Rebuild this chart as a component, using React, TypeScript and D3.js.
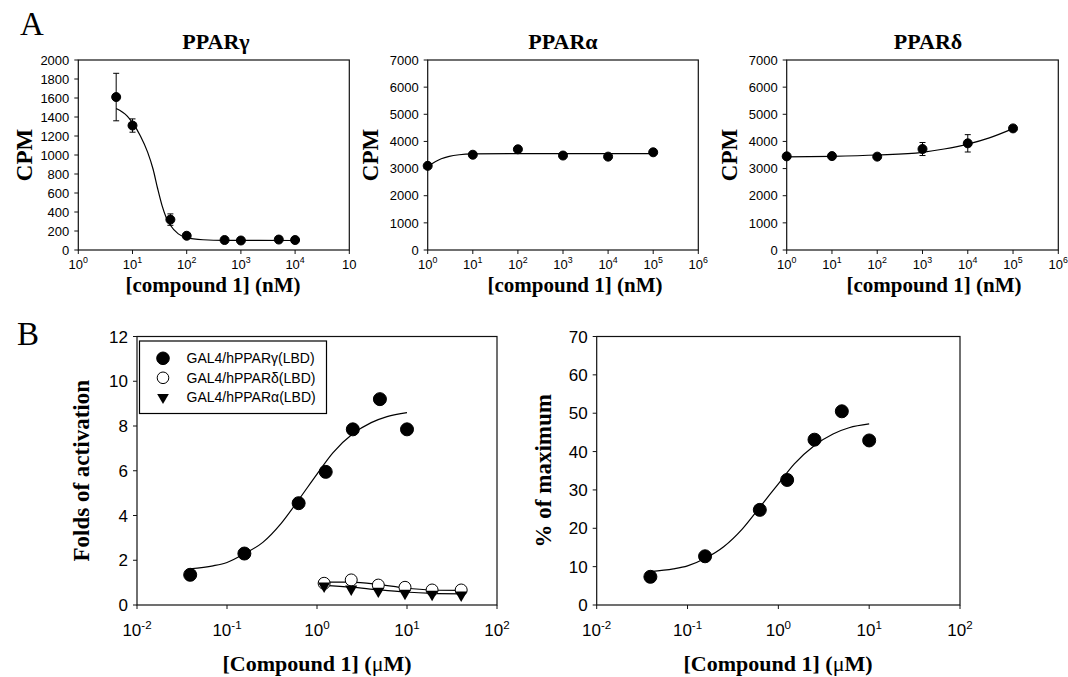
import { useRef, useEffect } from "react";
import { select, scaleLog, scaleLinear, line, curveMonotoneX, symbol, symbolTriangle } from "d3";

const W = 1068;
const H = 677;
const SERIF = "'Liberation Serif', 'Times New Roman', serif";
const SANS = "'Liberation Sans', Arial, sans-serif";

// A: binding, PPARγ
const gammaDose = [5, 10, 50, 100, 500, 1000, 5000, 10000];
const gammaCpm = [1610, 1310, 320, 150, 105, 100, 110, 105];
const gammaErr = [250, 70, 60, 20, 12, 10, 12, 12];
const gammaFitDose = [5, 8, 10, 14, 19, 24, 29, 35, 42, 50, 70, 100, 200, 500, 10000];
const gammaFitCpm = [1490, 1410, 1340, 1200, 1030, 850, 650, 470, 340, 260, 170, 130, 108, 101, 100];

// A: binding, PPARα
const alphaDose = [1, 10, 100, 1000, 10000, 100000];
const alphaCpm = [3100, 3510, 3710, 3480, 3440, 3600];
const alphaFitDose = [1, 1.5, 2, 3, 5, 10, 100, 100000];
const alphaFitCpm = [3080, 3260, 3360, 3450, 3510, 3540, 3550, 3550];

// A: binding, PPARδ
const deltaDose = [1, 10, 100, 1000, 10000, 100000];
const deltaCpm = [3450, 3460, 3440, 3720, 3930, 4480];
const deltaErr = [90, 90, 60, 240, 320, 60];
const deltaFitDose = [1, 10, 100, 1000, 3000, 10000, 30000, 100000];
const deltaFitCpm = [3430, 3450, 3500, 3600, 3720, 3900, 4130, 4470];

// B: transactivation (folds)
const transDose = [0.039, 0.156, 0.625, 1.25, 2.5, 5, 10];
const transGamma = [1.35, 2.3, 4.55, 5.95, 7.85, 9.2, 7.85];
const transFitDose = [0.039, 0.07, 0.1, 0.157, 0.25, 0.4, 0.625, 1, 1.5, 2.5, 4, 6, 10];
const transFitGamma = [1.62, 1.75, 1.9, 2.3, 2.8, 3.65, 4.7, 5.85, 6.8, 7.65, 8.15, 8.42, 8.6];
const transDoseHigh = [1.2, 2.4, 4.8, 9.5, 19, 40];
const transDelta = [0.97, 1.12, 0.89, 0.79, 0.67, 0.67];
const transAlpha = [0.85, 0.72, 0.62, 0.52, 0.48, 0.45];
const transFitDelta = [1.02, 1.02, 0.92, 0.76, 0.67, 0.65];
const transFitAlpha = [0.88, 0.8, 0.68, 0.58, 0.52, 0.5];

// B: % of maximum
const pctMax = [7.35, 12.7, 24.8, 32.6, 43.1, 50.5, 42.9];
const pctFit = [8.7, 9.4, 10.2, 12.2, 15.2, 19.8, 25.5, 31.6, 36.8, 41.6, 44.6, 46.2, 47.2];

const legendLabels = ["GAL4/hPPARγ(LBD)", "GAL4/hPPARδ(LBD)", "GAL4/hPPARα(LBD)"];
const legendMarkers = ["dot", "open", "tri"];

// ticks
const gammaYTicks = [0, 200, 400, 600, 800, 1000, 1200, 1400, 1600, 1800, 2000];
const cpmYTicks = [0, 1000, 2000, 3000, 4000, 5000, 6000, 7000];
const foldYTicks = [0, 2, 4, 6, 8, 10, 12];
const pctYTicks = [0, 10, 20, 30, 40, 50, 60, 70];
const gammaXPows = [0, 1, 2, 3, 4, 5];
const gammaXExps = ["0", "1", "2", "3", "4", ""];
const nmXPows = [0, 1, 2, 3, 4, 5, 6];
const nmXExps = ["0", "1", "2", "3", "4", "5", "6"];
const umXPows = [-2, -1, 0, 1, 2];
const umXExps = ["-2", "-1", "0", "1", "2"];

const zip = (xs, ys, es?) => xs.map((x, i) => ({ x, y: ys[i], e: es ? es[i] : 0 }));

function drawMarker(g, kind, cx, cy, r) {
  if (kind === "tri") {
    g.append("path")
      .attr("d", symbol(symbolTriangle, r * r * 1.5)())
      .attr("transform", `translate(${cx},${cy}) rotate(180)`)
      .attr("fill", "#000");
  } else {
    g.append("circle")
      .attr("cx", cx)
      .attr("cy", cy)
      .attr("r", kind === "open" ? r - 0.5 : r)
      .attr("fill", kind === "open" ? "#fff" : "#000")
      .attr("stroke", "#000")
      .attr("stroke-width", 1);
  }
}

function drawPanel(root, p) {
  const g = root.append("g");
  const x = scaleLog().domain(p.xDomain).range([p.left, p.right]);
  const y = scaleLinear().domain(p.yDomain).range([p.bottom, p.top]);

  g.append("rect")
    .attr("x", p.left)
    .attr("y", p.top)
    .attr("width", p.right - p.left)
    .attr("height", p.bottom - p.top)
    .attr("fill", "none")
    .attr("stroke", "#111")
    .attr("stroke-width", 1.2);

  // y axis
  p.yTicks.forEach(v => {
    g.append("line")
      .attr("x1", p.left - 4).attr("x2", p.left)
      .attr("y1", y(v)).attr("y2", y(v))
      .attr("stroke", "#111");
    g.append("text")
      .attr("x", p.left - p.yTickGap)
      .attr("y", y(v))
      .attr("dy", "0.36em")
      .attr("text-anchor", "end")
      .style("font-family", SANS)
      .style("font-size", `${p.tickFs}px`)
      .text(v);
  });

  // x axis
  p.xPows.forEach((pw, i) => {
    const px = x(Math.pow(10, pw));
    g.append("line")
      .attr("x1", px).attr("x2", px)
      .attr("y1", p.bottom).attr("y2", p.bottom + 4)
      .attr("stroke", "#111");
    const t = g.append("text")
      .attr("x", px)
      .attr("y", p.xTickY)
      .attr("text-anchor", "middle")
      .style("font-family", SANS)
      .style("font-size", `${p.tickFs}px`);
    t.append("tspan").text("10");
    if (p.xExps[i]) {
      t.append("tspan")
        .attr("dy", -p.tickFs * 0.42)
        .style("font-size", `${p.tickFs * 0.68}px`)
        .text(p.xExps[i]);
    }
  });

  // fitted curves
  const path = line().x(d => x(d.x)).y(d => y(d.y)).curve(curveMonotoneX);
  p.fits.forEach(f => {
    g.append("path")
      .attr("d", path(f))
      .attr("fill", "none")
      .attr("stroke", "#000")
      .attr("stroke-width", 1.2);
  });

  // points with error bars
  p.series.forEach(s => {
    s.data.forEach(d => {
      if (d.e > 0) {
        const cx = x(d.x);
        g.append("line")
          .attr("x1", cx).attr("x2", cx)
          .attr("y1", y(d.y - d.e)).attr("y2", y(d.y + d.e))
          .attr("stroke", "#000");
        [d.y - d.e, d.y + d.e].forEach(v => {
          g.append("line")
            .attr("x1", cx - 3).attr("x2", cx + 3)
            .attr("y1", y(v)).attr("y2", y(v))
            .attr("stroke", "#000");
        });
      }
      drawMarker(g, s.marker, x(d.x), y(d.y), s.r);
    });
  });

  // titles and labels
  if (p.title) {
    g.append("text")
      .attr("x", p.titleX)
      .attr("y", 49)
      .attr("text-anchor", "middle")
      .style("font-family", SERIF)
      .style("font-weight", "bold")
      .style("font-size", "22px")
      .text(p.title);
  }
  const xl = g.append("text")
    .attr("x", p.xLabelX)
    .attr("y", p.xLabelY)
    .attr("text-anchor", "middle")
    .style("font-family", SERIF)
    .style("font-weight", "bold")
    .style("font-size", `${p.labelFs}px`);
  p.xLabel.forEach(([txt, w]) => xl.append("tspan").style("font-weight", w).text(txt));

  g.append("text")
    .attr("transform", `translate(${p.yLabelX}, ${(p.top + p.bottom) / 2}) rotate(-90)`)
    .attr("text-anchor", "middle")
    .style("font-family", SERIF)
    .style("font-weight", "bold")
    .style("font-size", "23px")
    .text(p.yLabel);
}

function Figure() {
  const svgRef = useRef(null);

  useEffect(() => {
    const svg = select(svgRef.current);
    svg.selectAll("*").remove();

    svg.append("rect").attr("width", W).attr("height", H).attr("fill", "#fff");

    const nm = [["[compound 1] (nM)", "bold"]];
    const um = [["[Compound 1] (", "bold"], ["μ", "normal"], ["M)", "bold"]];
    const top = { top: 60, bottom: 250, tickFs: 13, yTickGap: 9, xTickY: 268.5, xLabelY: 292, labelFs: 21 };

    drawPanel(svg, {
      ...top, left: 78.3, right: 349.3, xDomain: [1, 1e5], yDomain: [0, 2000],
      yTicks: gammaYTicks, xPows: gammaXPows, xExps: gammaXExps,
      title: "PPARγ", titleX: 216, xLabel: nm, xLabelX: 213, yLabel: "CPM", yLabelX: 32,
      fits: [zip(gammaFitDose, gammaFitCpm)],
      series: [{ data: zip(gammaDose, gammaCpm, gammaErr), marker: "dot", r: 4.5 }],
    });
    drawPanel(svg, {
      ...top, left: 427.7, right: 698.3, xDomain: [1, 1e6], yDomain: [0, 7000],
      yTicks: cpmYTicks, xPows: nmXPows, xExps: nmXExps,
      title: "PPARα", titleX: 563, xLabel: nm, xLabelX: 575, yLabel: "CPM", yLabelX: 378,
      fits: [zip(alphaFitDose, alphaFitCpm)],
      series: [{ data: zip(alphaDose, alphaCpm), marker: "dot", r: 4.5 }],
    });
    drawPanel(svg, {
      ...top, left: 786.7, right: 1058.3, xDomain: [1, 1e6], yDomain: [0, 7000],
      yTicks: cpmYTicks, xPows: nmXPows, xExps: nmXExps,
      title: "PPARδ", titleX: 928, xLabel: nm, xLabelX: 934, yLabel: "CPM", yLabelX: 737,
      fits: [zip(deltaFitDose, deltaFitCpm)],
      series: [{ data: zip(deltaDose, deltaCpm, deltaErr), marker: "dot", r: 4.5 }],
    });

    const bot = { top: 336.5, bottom: 605, tickFs: 17, yTickGap: 9, xTickY: 636, xLabelY: 671, labelFs: 22, xDomain: [0.01, 100], xPows: umXPows, xExps: umXExps };
    drawPanel(svg, {
      ...bot, left: 137, right: 497, yDomain: [0, 12], yTicks: foldYTicks,
      xLabel: um, xLabelX: 317, yLabel: "Folds of activation", yLabelX: 89,
      fits: [
        zip(transFitDose, transFitGamma),
        zip(transDoseHigh, transFitDelta),
        zip(transDoseHigh, transFitAlpha),
      ],
      series: [
        { data: zip(transDose, transGamma), marker: "dot", r: 6.5 },
        { data: zip(transDoseHigh, transDelta), marker: "open", r: 6.5 },
        { data: zip(transDoseHigh, transAlpha), marker: "tri", r: 6.5 },
      ],
    });
    drawPanel(svg, {
      ...bot, left: 596.7, right: 960, yDomain: [0, 70], yTicks: pctYTicks,
      xLabel: um, xLabelX: 778, yLabel: "% of maximum", yLabelX: 551,
      fits: [zip(transFitDose, pctFit)],
      series: [{ data: zip(transDose, pctMax), marker: "dot", r: 6.5 }],
    });

    // legend
    const lg = svg.append("g");
    lg.append("rect")
      .attr("x", 139.5).attr("y", 341)
      .attr("width", 187).attr("height", 72.5)
      .attr("fill", "#fff").attr("stroke", "#000").attr("stroke-width", 1.2);
    legendLabels.forEach((lab, i) => {
      const cy = 358.3 + i * 19.5;
      drawMarker(lg, legendMarkers[i], 163, cy, 6.3);
      lg.append("text")
        .attr("x", 186.5).attr("y", cy).attr("dy", "0.36em")
        .style("font-family", SANS)
        .style("font-size", "14px")
        .text(lab);
    });

    // panel letters
    [["A", 20, 35], ["B", 17, 345]].forEach(([t, lx, ly]) => {
      svg.append("text")
        .attr("x", lx).attr("y", ly)
        .style("font-family", SERIF)
        .style("font-size", "33px")
        .text(t);
    });
  }, []);

  return <svg ref={svgRef} width={W} height={H} style={{ position: "absolute", left: 0, top: 0 }} />;
}

export default function App() {
  return <Figure />;
}
